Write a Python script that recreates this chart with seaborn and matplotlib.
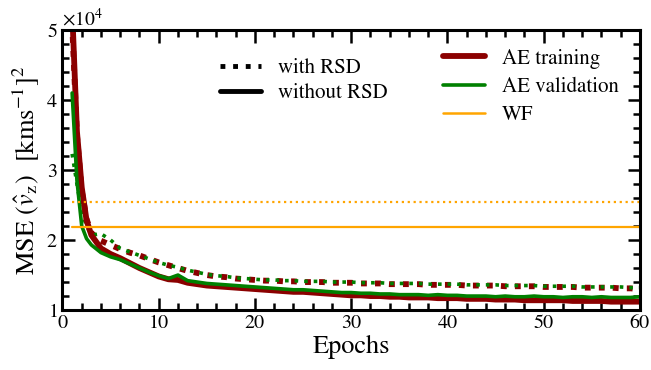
import numpy as np
import pandas as pd
import matplotlib
matplotlib.use("Agg")
import matplotlib.pyplot as plt
from matplotlib.lines import Line2D
import seaborn as sns

# ---------------- data (MSE in units of 1e4 [km/s]^2) ----------------
epochs = [1, 1.5, 2, 2.5, 3] + list(range(4, 61))

train_norsd = [5.30, 3.55, 2.75, 2.28, 2.07, 1.88, 1.80, 1.74, 1.67, 1.60, 1.54, 1.48, 1.44, 1.43,
               1.39, 1.37, 1.35, 1.34, 1.33, 1.32, 1.31, 1.30,
               1.29, 1.28, 1.27, 1.26, 1.26, 1.25, 1.24, 1.23, 1.22, 1.21,
               1.21, 1.20, 1.20, 1.19, 1.19, 1.18, 1.18, 1.18, 1.17, 1.17,
               1.17, 1.16, 1.16, 1.16, 1.15, 1.15, 1.15, 1.14, 1.14, 1.14,
               1.14, 1.14, 1.13, 1.13, 1.13, 1.13, 1.12, 1.12, 1.12, 1.12]
valid_norsd = [4.10, 2.85, 2.20, 2.02, 1.93, 1.82, 1.76, 1.72, 1.66, 1.60, 1.54, 1.49, 1.45, 1.50,
               1.42, 1.40, 1.38, 1.37, 1.36, 1.35, 1.34, 1.33,
               1.32, 1.31, 1.30, 1.29, 1.29, 1.28, 1.27, 1.26, 1.25, 1.25,
               1.24, 1.24, 1.23, 1.23, 1.22, 1.22, 1.22, 1.21, 1.22, 1.21,
               1.21, 1.20, 1.20, 1.20, 1.19, 1.20, 1.19, 1.19, 1.20, 1.19,
               1.19, 1.18, 1.19, 1.19, 1.18, 1.19, 1.18, 1.18, 1.18, 1.19]
train_rsd = [5.10, 3.50, 2.70, 2.30, 2.10, 1.99, 1.93, 1.87, 1.82, 1.78, 1.73, 1.68, 1.64, 1.60,
             1.56, 1.53, 1.50, 1.48, 1.47, 1.45, 1.44, 1.43,
             1.42, 1.42, 1.41, 1.41, 1.40, 1.40, 1.40, 1.39, 1.39, 1.39,
             1.38, 1.38, 1.38, 1.37, 1.37, 1.37, 1.37, 1.36, 1.36, 1.36,
             1.36, 1.35, 1.35, 1.35, 1.35, 1.34, 1.34, 1.34, 1.34, 1.33,
             1.33, 1.33, 1.33, 1.32, 1.32, 1.32, 1.32, 1.31, 1.31, 1.30]
valid_rsd = [3.23, 2.80, 2.40, 2.20, 2.07, 2.09, 2.00, 1.88, 1.83, 1.78, 1.73, 1.68, 1.64, 1.61,
             1.57, 1.54, 1.51, 1.49, 1.48, 1.46, 1.45, 1.44,
             1.43, 1.43, 1.42, 1.42, 1.41, 1.41, 1.41, 1.40, 1.40, 1.40,
             1.39, 1.39, 1.39, 1.38, 1.38, 1.38, 1.38, 1.37, 1.37, 1.37,
             1.37, 1.36, 1.36, 1.36, 1.36, 1.35, 1.35, 1.35, 1.35, 1.34,
             1.34, 1.34, 1.34, 1.33, 1.33, 1.33, 1.33, 1.33, 1.32, 1.32]
wf_norsd = 2.19
wf_rsd = 2.55
wf_epochs = [1, 60]

scale = 1e4
# ---------------- style ----------------
sns.set_style("ticks")
plt.rcParams["font.family"] = ["STIXGeneral", "DejaVu Serif"]
plt.rcParams["mathtext.fontset"] = "stix"
for k in ["text.color", "axes.labelcolor", "xtick.color", "ytick.color", "axes.edgecolor"]:
    plt.rcParams[k] = "black"

fig = plt.figure(figsize=(6.51, 3.70), dpi=100)
ax = fig.add_axes([0.096, 0.162, 0.887, 0.757])

def df_of(x, y):
    return pd.DataFrame({"epoch": x, "mse": np.asarray(y) * scale})

c_train, c_val, c_wf = "#8b0000", "#008000", "#ffa500"

sns.lineplot(data=df_of(epochs, train_rsd), x="epoch", y="mse", ax=ax, color=c_train,
             lw=4.2, linestyle=(0, (1, 1.4)), dash_capstyle="butt")
sns.lineplot(data=df_of(epochs, valid_rsd), x="epoch", y="mse", ax=ax, color=c_val,
             lw=2.6, linestyle=(0, (1, 1.65)))
sns.lineplot(data=df_of(epochs, train_norsd), x="epoch", y="mse", ax=ax, color=c_train, lw=4.2)
sns.lineplot(data=df_of(epochs, valid_norsd), x="epoch", y="mse", ax=ax, color=c_val, lw=2.6)
sns.lineplot(data=df_of(wf_epochs, [wf_rsd] * 2), x="epoch", y="mse", ax=ax, color=c_wf,
             lw=1.6, linestyle=(0, (1, 1.65)))
sns.lineplot(data=df_of(wf_epochs, [wf_norsd] * 2), x="epoch", y="mse", ax=ax, color=c_wf, lw=1.6)

ax.set_xlim(0, 60)
ax.set_ylim(1e4, 5e4)
ax.set_xticks([0, 10, 20, 30, 40, 50, 60])
ax.set_xticks(np.arange(0, 61, 2), minor=True)
ax.set_yticks([1e4, 2e4, 3e4, 4e4, 5e4])
ax.set_yticks(np.arange(1e4, 5.01e4, 0.2e4), minor=True)
ax.ticklabel_format(style="sci", axis="y", scilimits=(0, 0), useMathText=True)
ax.yaxis.get_offset_text().set_fontsize(14)

ax.tick_params(which="both", direction="in", top=True, right=True, width=1.8, labelsize=14.5)
ax.tick_params(which="major", length=9)
ax.tick_params(which="minor", length=5)
for s in ax.spines.values():
    s.set_linewidth(2.2)

ax.set_xlabel("Epochs", fontsize=19, labelpad=2)
ax.set_ylabel(r"MSE $(\hat{v}_{\rm z})$  [kms$^{-1}$]$^2$", fontsize=19, labelpad=4)

h1 = [Line2D([], [], color="k", lw=3.5, linestyle=(0, (1, 1.6))),
      Line2D([], [], color="k", lw=3.5)]
leg1 = ax.legend(h1, ["with RSD", "without RSD"], loc="upper left",
                 bbox_to_anchor=(0.24, 0.965), frameon=False, fontsize=15,
                 handlelength=2.0, labelspacing=0.25, handletextpad=0.8)
ax.add_artist(leg1)
h2 = [Line2D([], [], color=c_train, lw=4.2),
      Line2D([], [], color=c_val, lw=2.6),
      Line2D([], [], color=c_wf, lw=1.8)]
ax.legend(h2, ["AE training", "AE validation", "WF"], loc="upper left",
          bbox_to_anchor=(0.627, 1.0), frameon=False, fontsize=15,
          handlelength=2.0, labelspacing=0.4, handletextpad=0.8)

fig.savefig("out.png", dpi=100)
